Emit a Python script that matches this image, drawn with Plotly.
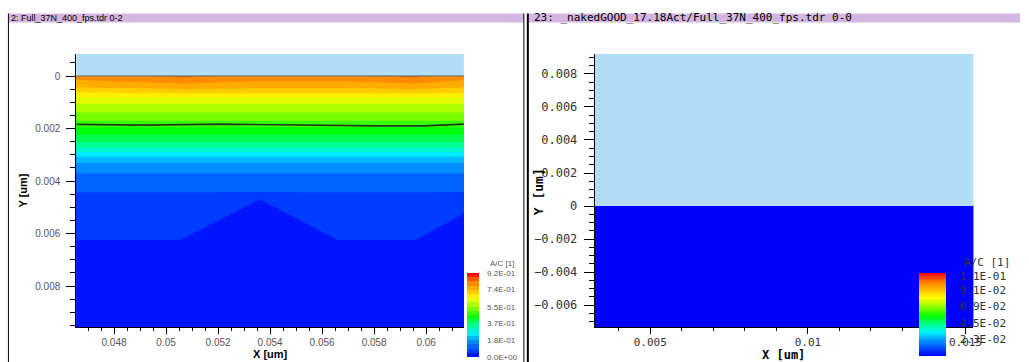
import plotly.graph_objects as go

W, H = 1029, 362

# ---- left panel: active concentration A/C on the doped region (y grows downward)
ac_x = [0.0463, 0.0506, 0.0536, 0.0566, 0.0596, 0.0616]
ac_y = [0.0, 0.00015, 0.00045, 0.00062, 0.00079, 0.00098, 0.00126, 0.00155,
        0.00174, 0.00206, 0.0025, 0.00278, 0.00298, 0.00317, 0.00336, 0.00362,
        0.0039, 0.0042, 0.0044, 0.0046, 0.0063, 0.0096]
ac_z = [
    [0.80, 0.84, 0.81, 0.82, 0.84, 0.80],
    [0.78, 0.81, 0.79, 0.79, 0.81, 0.78],
    [0.73, 0.75, 0.74, 0.74, 0.75, 0.73],
    [0.69, 0.70, 0.70, 0.70, 0.70, 0.69],
    [0.65, 0.65, 0.65, 0.65, 0.65, 0.65],
    [0.61, 0.61, 0.61, 0.61, 0.61, 0.61],
    [0.57, 0.57, 0.57, 0.57, 0.57, 0.57],
    [0.53, 0.53, 0.53, 0.53, 0.53, 0.53],
    [0.50, 0.50, 0.50, 0.50, 0.50, 0.50],
    [0.44, 0.44, 0.44, 0.44, 0.44, 0.44],
    [0.37, 0.37, 0.37, 0.37, 0.37, 0.37],
    [0.31, 0.31, 0.31, 0.31, 0.31, 0.31],
    [0.25, 0.25, 0.25, 0.25, 0.25, 0.25],
    [0.21, 0.21, 0.21, 0.21, 0.21, 0.21],
    [0.175, 0.175, 0.175, 0.175, 0.175, 0.175],
    [0.145, 0.145, 0.145, 0.145, 0.145, 0.145],
    [0.12, 0.12, 0.12, 0.12, 0.12, 0.12],
    [0.10, 0.10, 0.105, 0.10, 0.10, 0.10],
    [0.095, 0.095, 0.095, 0.095, 0.095, 0.095],
    [0.07, 0.07, 0.047, 0.07, 0.07, 0.06],
    [0.045, 0.045, 0.03, 0.045, 0.045, 0.017],
    [0.03, 0.03, 0.03, 0.03, 0.03, 0.03],
]
junction_x = [0.04655, 0.0491, 0.0521, 0.0550, 0.0581, 0.0599, 0.06145]
junction_y = [0.00184, 0.00187, 0.00183, 0.00187, 0.0019, 0.0019, 0.00183]
surface_x = [0.04655, 0.06145]
surface_y = [0.0, 0.0]
cb1_ticks = [0.0, 0.18, 0.37, 0.55, 0.74, 0.92]
cb1_max = 0.92

# ---- right panel: A/C below the surface (y grows upward)
ac2_x_edges = [0.003, 0.016]
ac2_y_edges = [-0.008, 0.0]
ac2_z = [[0.0]]
cb2_ticks = [0.0, 0.023, 0.045, 0.069, 0.091, 0.11]
cb2_max = 0.1142

rainbow = [[0.0, "#0000ff"], [0.1, "#0050ff"], [0.2, "#00a0ff"], [0.28, "#00f0ff"],
           [0.38, "#00ff90"], [0.48, "#00ff00"], [0.58, "#80ff00"], [0.70, "#ffff00"],
           [0.80, "#ffbb00"], [0.88, "#ff8800"], [1.0, "#ff0000"]]

GAS = "#b2ddf7"
BAR = "#d3b6e2"
SANS = "Liberation Sans, Arial, sans-serif"
WIDE = "DejaVu Sans Mono, monospace"


def px(xp):
    return xp / W


def py(yp):
    return 1 - yp / H


fig = go.Figure()

fig.add_trace(go.Contour(
    x=ac_x, y=ac_y, z=ac_z, xaxis="x", yaxis="y",
    colorscale=rainbow, zmin=0, zmax=cb1_max, zauto=False,
    contours=dict(start=0, end=cb1_max, size=cb1_max / 20, coloring="fill", showlines=False),
    line=dict(width=0, smoothing=0),
    colorbar=dict(
        x=px(471), xanchor="left", xpad=0,
        y=py(357), yanchor="bottom", ypad=0,
        len=84, lenmode="pixels", thickness=12, outlinewidth=0,
        tickmode="array", tickvals=cb1_ticks,
        ticktext=[f"{v:.1E}" for v in cb1_ticks],
        ticks="outside", ticklen=7, tickcolor="rgba(0,0,0,0)",
        tickfont=dict(family=SANS, size=8, color="#555555"),
    ),
    hoverinfo="skip",
))
fig.add_trace(go.Scatter(
    x=surface_x, y=surface_y, xaxis="x", yaxis="y", mode="lines",
    line=dict(color="#857f6e", width=1.6), showlegend=False, hoverinfo="skip",
))
fig.add_trace(go.Scatter(
    x=junction_x, y=junction_y, xaxis="x", yaxis="y", mode="lines",
    line=dict(color="#1c3a1c", width=1.6), showlegend=False, hoverinfo="skip",
))

fig.add_trace(go.Heatmap(
    x=ac2_x_edges, y=ac2_y_edges, z=ac2_z, xaxis="x2", yaxis="y2",
    colorscale=rainbow, zmin=0, zmax=cb2_max, zauto=False,
    colorbar=dict(
        x=px(927), xanchor="left", xpad=0,
        y=py(356), yanchor="bottom", ypad=0,
        len=83, lenmode="pixels", thickness=27, outlinewidth=0,
        tickmode="array", tickvals=cb2_ticks,
        ticktext=[f"{v:.1E}" for v in cb2_ticks],
        ticks="outside", ticklen=12, tickcolor="rgba(0,0,0,0)",
        tickfont=dict(family=WIDE, size=11, color="#333333"),
    ),
    hoverinfo="skip",
))

axis_common = dict(showgrid=False, zeroline=False, showline=True, linecolor="black",
                   linewidth=1, ticks="outside", tickcolor="black", mirror=False)

fig.update_layout(
    width=W, height=H, margin=dict(l=0, r=0, t=0, b=0),
    paper_bgcolor="white", plot_bgcolor=GAS, showlegend=False,
    xaxis=dict(**axis_common, domain=[px(77), px(468)], range=[0.04655, 0.06145],
               anchor="y", tick0=0, dtick=0.002, ticklen=6,
               minor=dict(dtick=0.0005, ticklen=3, tickcolor="black", ticks="outside"),
               tickfont=dict(family=SANS, size=10, color="#555555"),
               title=dict(text="X [um]", standoff=1,
                          font=dict(family=SANS, size=11, color="black", weight="bold"))),
    yaxis=dict(**axis_common, domain=[py(327), py(54)], range=[0.00956, -0.00084],
               anchor="x", tick0=0, dtick=0.002, ticklen=9, ticklabelstandoff=4,
               minor=dict(dtick=0.0005, ticklen=5, tickcolor="black", ticks="outside"),
               tickfont=dict(family=SANS, size=10, color="#555555"),
               title=dict(text="Y [um]", standoff=5,
                          font=dict(family=SANS, size=11, color="black", weight="bold"))),
    xaxis2=dict(**axis_common, domain=[px(600), px(982)], range=[0.00324, 0.01525],
                anchor="y2", tick0=0, dtick=0.005, ticklen=6, ticklabelstandoff=-1,
                minor=dict(dtick=0.001, ticklen=3, tickcolor="black", ticks="outside"),
                tickfont=dict(family=WIDE, size=11, color="#333333")),
    yaxis2=dict(**axis_common, domain=[py(327), py(54)], range=[-0.00733, 0.00921],
                anchor="x2", tick0=0, dtick=0.002, ticklen=10, ticklabelstandoff=4,
                minor=dict(dtick=0.0005, ticklen=5, tickcolor="black", ticks="outside"),
                tickfont=dict(family=WIDE, size=12, color="#333333")),
)

# window title bars and frames
shapes = [
    dict(type="rect", xref="paper", yref="paper", x0=px(8), x1=px(528.5), y0=py(22.5), y1=py(13.5),
         fillcolor=BAR, line=dict(width=0), layer="above"),
    dict(type="rect", xref="paper", yref="paper", x0=px(533), x1=1, y0=py(22.5), y1=py(13.5),
         fillcolor=BAR, line=dict(width=0), layer="above"),
    dict(type="line", xref="paper", yref="paper", x0=px(8.5), x1=px(8.5), y0=0, y1=py(13.5),
         line=dict(color="black", width=1), layer="above"),
    dict(type="line", xref="paper", yref="paper", x0=px(528.5), x1=px(528.5), y0=0, y1=py(13.5),
         line=dict(color="black", width=1), layer="above"),
    dict(type="line", xref="paper", yref="paper", x0=px(532.5), x1=px(532.5), y0=0, y1=py(13.5),
         line=dict(color="black", width=2), layer="above"),
]
fig.update_layout(shapes=shapes)

annotations = [
    dict(text="2: Full_37N_400_fps.tdr 0-2", x=px(9), y=py(18), xanchor="left", yanchor="middle",
         font=dict(family=SANS, size=9, color="black")),
    dict(text="23: _nakedGOOD_17.18Act/Full_37N_400_fps.tdr 0-0", x=px(537), y=py(18),
         xanchor="left", yanchor="middle", font=dict(family=WIDE, size=11, color="black")),
    dict(text="A/C [1]", x=px(492), y=py(263), xanchor="left", yanchor="middle",
         font=dict(family=SANS, size=8, color="#555555")),
    dict(text="A/C [1]", x=px(970), y=py(262), xanchor="left", yanchor="middle",
         font=dict(family=WIDE, size=11, color="#333333")),
    dict(text="Y [um]", x=px(543), y=py(192), xanchor="center", yanchor="middle", textangle=-90,
         font=dict(family=WIDE, size=13, color="black", weight="bold")),
    dict(text="X [um]", x=px(790), y=py(354.5), xanchor="center", yanchor="middle",
         font=dict(family=WIDE, size=12, color="black", weight="bold")),
]
for a in annotations:
    a.update(xref="paper", yref="paper", showarrow=False)
fig.update_layout(annotations=annotations)

fig.write_html("out.html")
